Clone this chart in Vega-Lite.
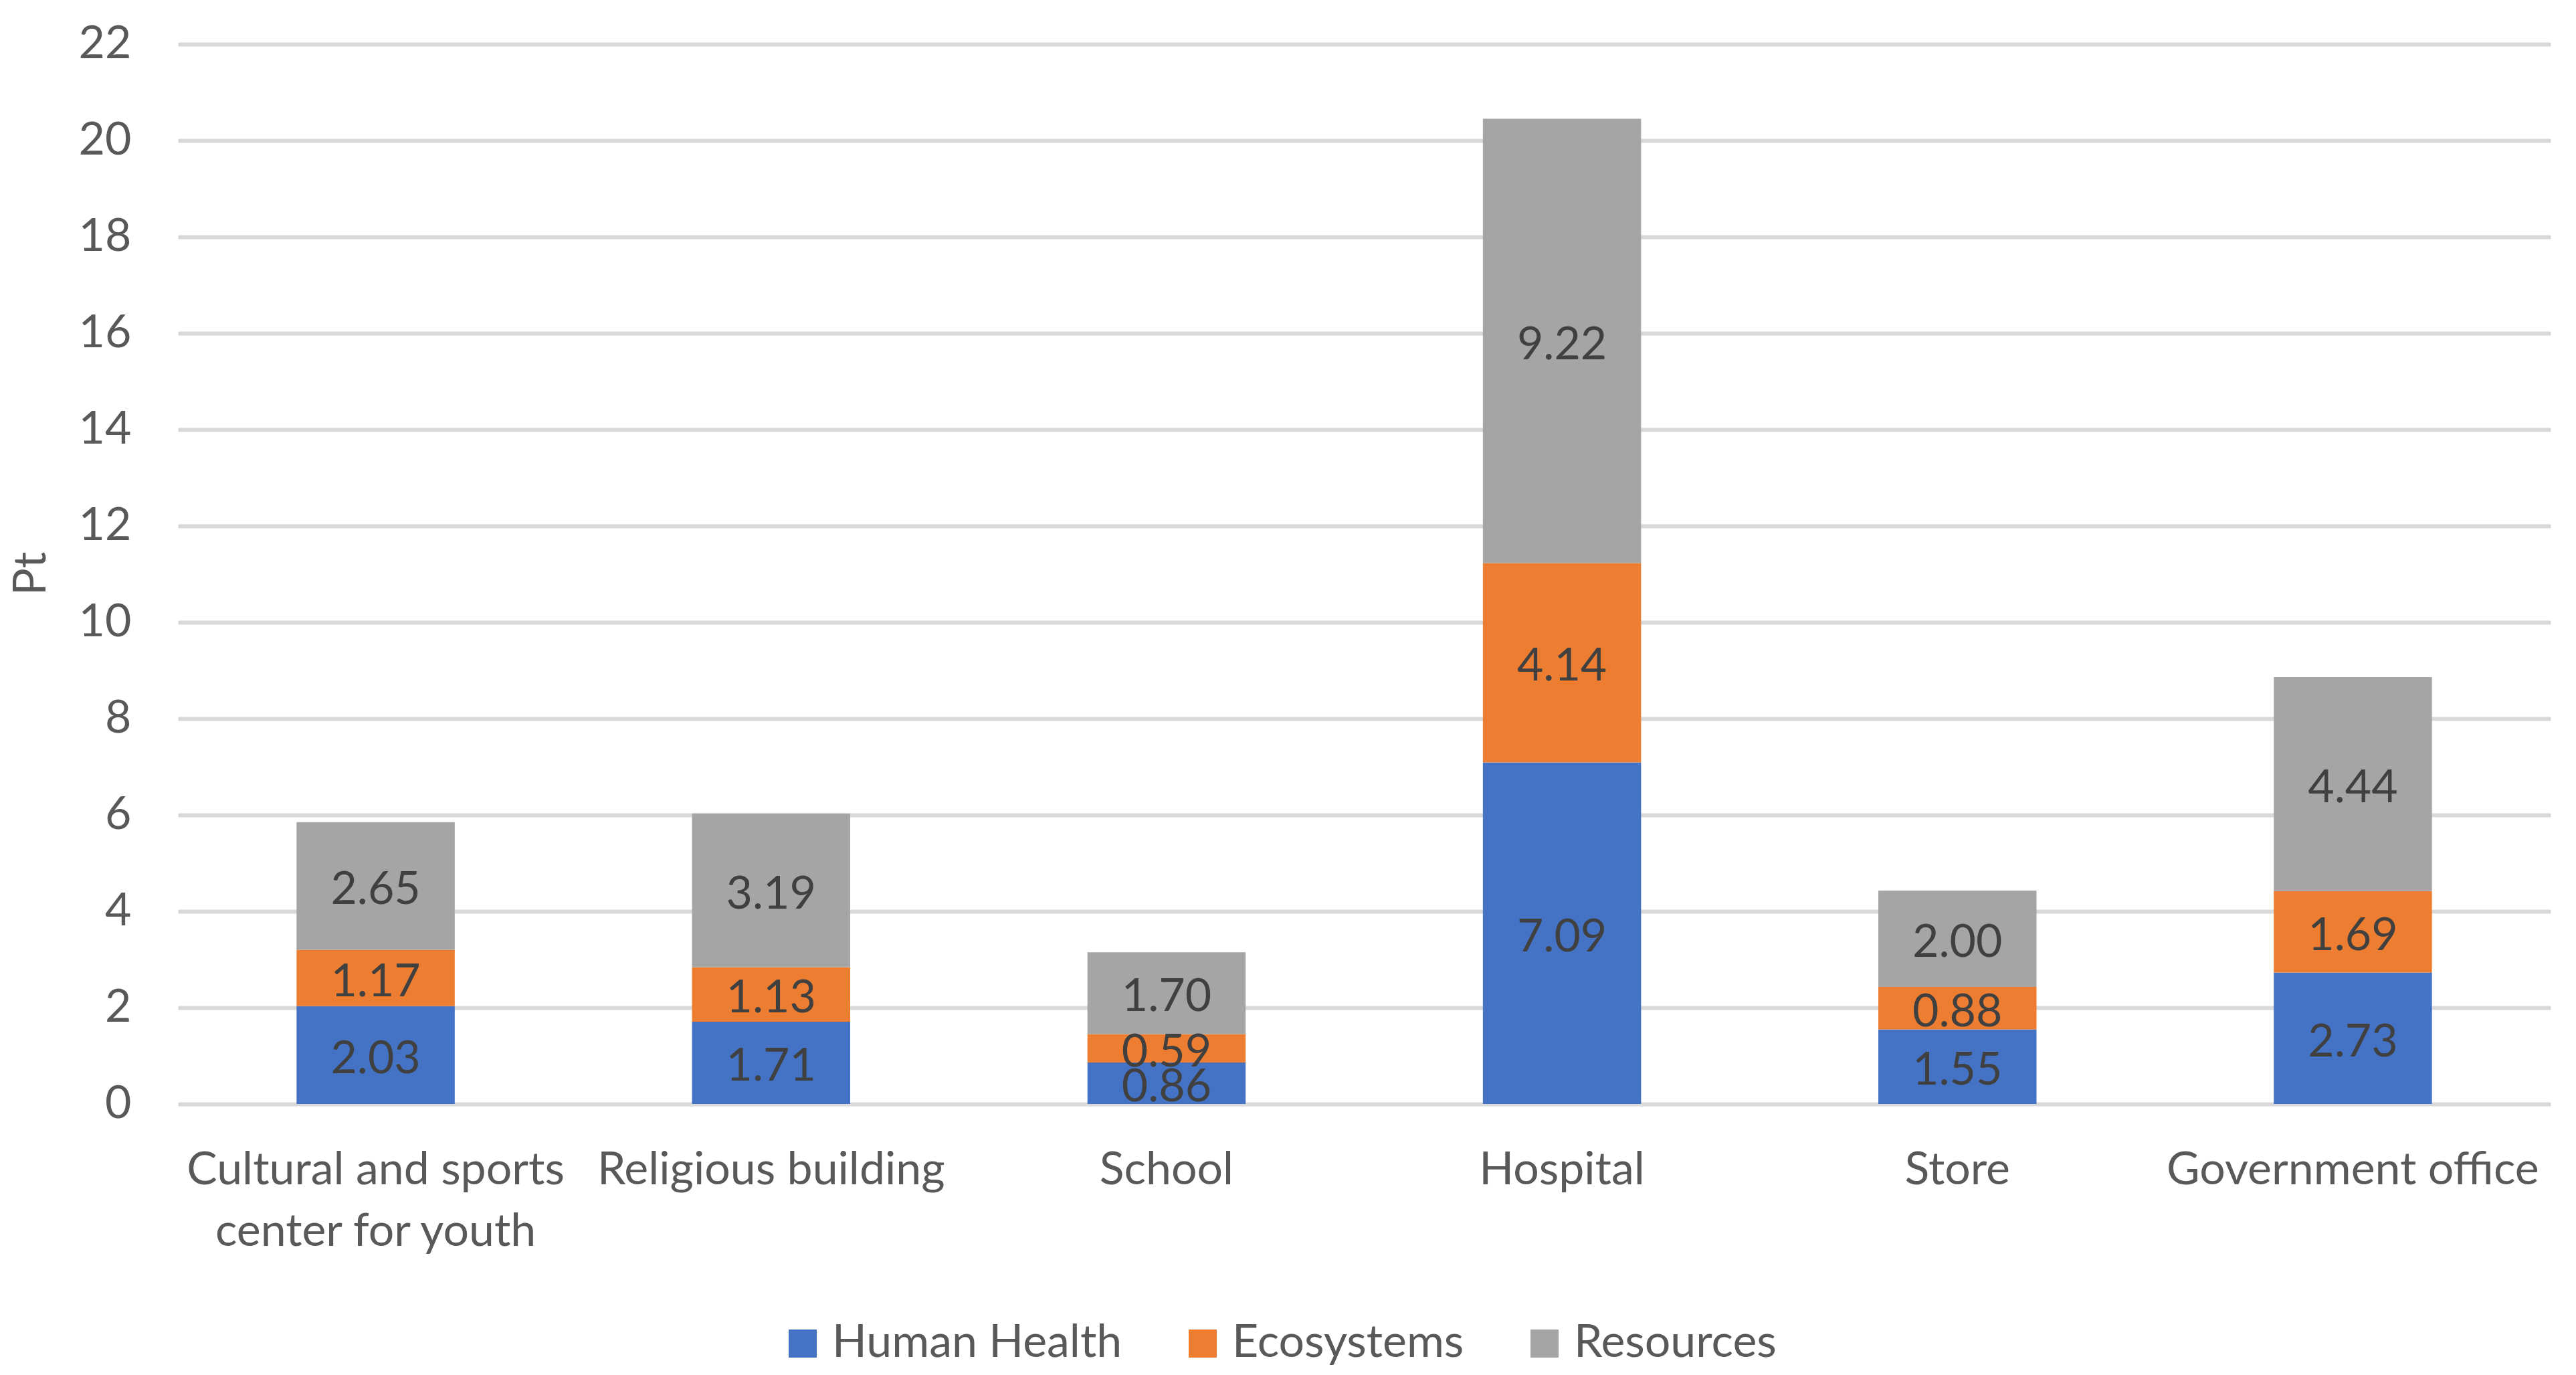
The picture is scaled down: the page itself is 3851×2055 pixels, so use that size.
{
  "$schema": "https://vega.github.io/schema/vega-lite/v6.json",
  "autosize": {"type": "none"},
  "width": 3547,
  "height": 1584,
  "padding": {"left": 266, "top": 66, "right": 38, "bottom": 405},
  "background": "white",
  "config": {
    "font": "Lato",
    "view": {"stroke": null}
  },
  "data": {
    "values": [
      {"building": "Cultural and sports center for youth", "category": "Human Health", "k": 1, "value": 2.03},
      {"building": "Cultural and sports center for youth", "category": "Ecosystems", "k": 2, "value": 1.17},
      {"building": "Cultural and sports center for youth", "category": "Resources", "k": 3, "value": 2.65},
      {"building": "Religious building", "category": "Human Health", "k": 1, "value": 1.71},
      {"building": "Religious building", "category": "Ecosystems", "k": 2, "value": 1.13},
      {"building": "Religious building", "category": "Resources", "k": 3, "value": 3.19},
      {"building": "School", "category": "Human Health", "k": 1, "value": 0.86},
      {"building": "School", "category": "Ecosystems", "k": 2, "value": 0.59},
      {"building": "School", "category": "Resources", "k": 3, "value": 1.70},
      {"building": "Hospital", "category": "Human Health", "k": 1, "value": 7.09},
      {"building": "Hospital", "category": "Ecosystems", "k": 2, "value": 4.14},
      {"building": "Hospital", "category": "Resources", "k": 3, "value": 9.22},
      {"building": "Store", "category": "Human Health", "k": 1, "value": 1.55},
      {"building": "Store", "category": "Ecosystems", "k": 2, "value": 0.88},
      {"building": "Store", "category": "Resources", "k": 3, "value": 2.00},
      {"building": "Government office", "category": "Human Health", "k": 1, "value": 2.73},
      {"building": "Government office", "category": "Ecosystems", "k": 2, "value": 1.69},
      {"building": "Government office", "category": "Resources", "k": 3, "value": 4.44}
    ]
  },
  "transform": [
    {"stack": "value", "groupby": ["building"], "sort": [{"field": "k", "order": "ascending"}], "as": ["v0", "v1"]}
  ],
  "encoding": {
    "x": {
      "field": "building",
      "type": "nominal",
      "sort": ["Cultural and sports center for youth", "Religious building", "School", "Hospital", "Store", "Government office"],
      "scale": {"paddingInner": 0.6, "paddingOuter": 0.3},
      "axis": {
        "title": null,
        "domain": false,
        "ticks": false,
        "labelAngle": 0,
        "labelFontSize": 68,
        "labelColor": "#595959",
        "labelBaseline": "alphabetic",
        "labelPadding": 119,
        "labelLineHeight": 92,
        "labelLimit": 0,
        "labelExpr": "datum.label == 'Cultural and sports center for youth' ? ['Cultural and sports', 'center for youth'] : datum.label"
      }
    }
  },
  "layer": [
    {
      "mark": {"type": "bar"},
      "encoding": {
        "y": {
          "field": "v0",
          "type": "quantitative",
          "scale": {"domain": [0, 22], "nice": false},
          "axis": {
            "values": [0, 2, 4, 6, 8, 10, 12, 14, 16, 18, 20, 22],
            "format": "d",
            "domain": false,
            "ticks": false,
            "grid": true,
            "gridColor": "#D9D9D9",
            "gridWidth": 6,
            "labelFontSize": 68,
            "labelColor": "#595959",
            "labelPadding": 70,
            "title": "Pt",
            "titleFontSize": 68,
            "titleFontWeight": "normal",
            "titleColor": "#595959",
            "titleX": -219,
            "titleY": 791,
            "titleAlign": "center",
            "titleBaseline": "middle"
          }
        },
        "y2": {"field": "v1"},
        "color": {
          "field": "category",
          "type": "nominal",
          "scale": {"domain": ["Human Health", "Ecosystems", "Resources"], "range": ["#4472C4", "#ED7D31", "#A5A5A5"]},
          "legend": {
            "title": null,
            "orient": "none",
            "direction": "horizontal",
            "legendX": 900,
            "legendY": 1908,
            "symbolType": "square",
            "symbolSize": 1764,
            "symbolStrokeWidth": 0,
            "labelFontSize": 68,
            "labelColor": "#595959",
            "labelOffset": 10,
            "columnPadding": 86,
            "labelLimit": 0
          }
        }
      }
    },
    {
      "transform": [
        {"fold": ["v0", "v1"], "as": ["edge", "pos"]},
        {"aggregate": [{"op": "mean", "field": "pos", "as": "mid"}], "groupby": ["building", "category", "value"]}
      ],
      "mark": {"type": "text", "fontSize": 68, "color": "#404040", "baseline": "middle", "dy": 7},
      "encoding": {
        "y": {"field": "mid", "type": "quantitative"},
        "text": {"field": "value", "type": "quantitative", "format": ".2f"}
      }
    }
  ]
}
